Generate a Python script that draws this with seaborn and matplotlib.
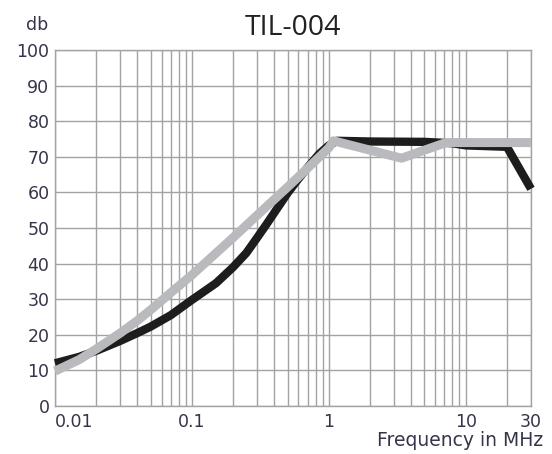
import numpy as np
import pandas as pd
import matplotlib
matplotlib.use("Agg")
import matplotlib.pyplot as plt
import seaborn as sns

# values (frequency in MHz, attenuation in db)
freq_black = [0.01, 0.015, 0.02, 0.03, 0.04, 0.05, 0.07, 0.1, 0.15, 0.2, 0.25, 0.3, 0.35, 0.4,
              0.5, 0.6, 0.7, 0.85, 1.0, 1.15, 2, 5, 8, 10, 20, 30]
db_black = [12, 13.8, 15.5, 18.3, 20.5, 22.3, 25.5, 29.8, 34.5, 39, 43, 47.3, 51, 54.3,
            59.8, 63.8, 67, 70.8, 73.2, 74.5, 74.3, 74.2, 73.8, 73.2, 72.8, 61]

freq_gray = [0.01, 0.015, 0.02, 0.03, 0.04, 0.05, 0.07, 0.1, 0.2, 0.3, 0.5, 0.7, 1.0,
             1.08, 3.4, 7.2, 10, 30]
db_gray = [9.8, 13, 16, 20.5, 24, 27, 31.8, 36.8, 47.3, 53.6, 61.5, 66.8, 72.5,
           74.5, 69.6, 74, 74, 74]

xtick_vals = [0.01, 0.1, 1, 10, 30]
xtick_labels = ["0.01", "0.1", "1", "10", "30"]
ytick_vals = list(range(0, 101, 10))

sns.set_style("white")
plt.rcParams["font.family"] = ["DejaVu Sans"]

label_col = "#35354a"
grid_col = "#a3a3a3"

df_black = pd.DataFrame({"freq": freq_black, "db": db_black})
df_gray = pd.DataFrame({"freq": freq_gray, "db": db_gray})

fig, ax = plt.subplots(figsize=(5.52, 4.54), dpi=100)
fig.subplots_adjust(left=55/552, right=531/552, top=1-50/454, bottom=1-406/454)

sns.lineplot(data=df_black, x="freq", y="db", ax=ax, color="#1d1d1d", linewidth=6,
             solid_capstyle="butt", solid_joinstyle="round", clip_on=False, zorder=3)
sns.lineplot(data=df_gray, x="freq", y="db", ax=ax, color="#b9babd", linewidth=6.5,
             solid_capstyle="butt", solid_joinstyle="round", clip_on=False, zorder=4)

ax.set_xscale("log")
ax.set_xlim(0.01, 30)
ax.set_ylim(0, 100)

ax.set_xticks(xtick_vals)
ax.set_xticklabels(xtick_labels)
ax.set_xticks([m * 10.0**e for e in range(-2, 2) for m in range(2, 10) if m * 10.0**e < 30], minor=True)
ax.set_yticks(ytick_vals)

ax.grid(True, which="both", color=grid_col, linewidth=1.0)
ax.tick_params(axis="both", which="both", length=0, labelsize=12.5, labelcolor=label_col)
ax.tick_params(axis="x", pad=5)
ax.tick_params(axis="y", pad=4)
ax.get_xticklabels()[0].set_horizontalalignment("left")

for s in ax.spines.values():
    s.set_color(grid_col)
    s.set_linewidth(1.0)

ax.set_xlabel("")
ax.set_ylabel("")
ax.set_title("TIL-004", fontsize=20.5, color="#222222", pad=11, family=["Open Sans", "DejaVu Sans"])

fig.text(37/552, 1-30/454, "db", ha="center", va="baseline", fontsize=12.5, color=label_col)
fig.text(543/552, 1-446/454, "Frequency in MHz", ha="right", va="baseline", fontsize=13.5, color=label_col)

fig.savefig("out.png", dpi=100)
